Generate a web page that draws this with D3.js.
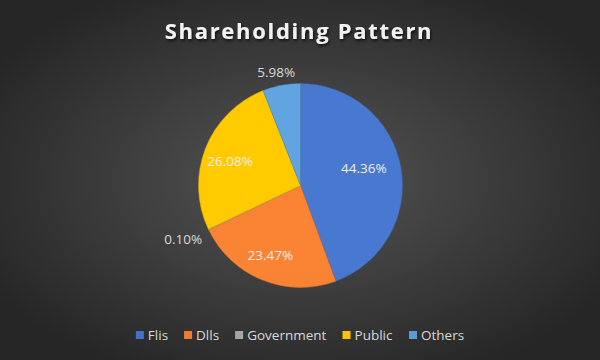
<!DOCTYPE html>
<html>
<head>
<meta charset="utf-8">
<script src="https://cdn.jsdelivr.net/npm/d3@7"></script>
<style>
  html, body { margin: 0; padding: 0; background: #333; }
  svg { display: block; font-family: "Open Sans", sans-serif; }
</style>
</head>
<body>
<div id="chart"></div>
<script>
const categories = ["Flis", "Dlls", "Government", "Public", "Others"];
const values = [44.36, 23.47, 0.10, 26.08, 5.98];
const colors = ["#4472C4", "#ED7D31", "#A5A5A5", "#FFC000", "#5B9BD5"];

const width = 600, height = 360;
const cx = 300.5, cy = 185.5, radius = 102;

const svg = d3.select("#chart").append("svg")
  .attr("width", width).attr("height", height);

const defs = svg.append("defs");
const bg = defs.append("radialGradient").attr("id", "bg")
  .attr("cx", "50%").attr("cy", "50%").attr("r", "60%");
bg.append("stop").attr("offset", "0%").attr("stop-color", "#555555");
bg.append("stop").attr("offset", "100%").attr("stop-color", "#262626");

const shadow = defs.append("filter").attr("id", "shadow")
  .attr("x", "-10%").attr("y", "-30%").attr("width", "120%").attr("height", "160%");
shadow.append("feDropShadow").attr("dx", 1).attr("dy", 2)
  .attr("stdDeviation", 1.5).attr("flood-color", "#000").attr("flood-opacity", 0.7);

colors.forEach((c, i) => {
  const g = defs.append("linearGradient").attr("id", "sl" + i)
    .attr("gradientUnits", "userSpaceOnUse")
    .attr("x1", 0).attr("y1", cy - radius).attr("x2", 0).attr("y2", cy + radius);
  g.append("stop").attr("offset", "0%").attr("stop-color", d3.color(c).brighter(0.15));
  g.append("stop").attr("offset", "100%").attr("stop-color", d3.color(c).darker(0.3));
});

svg.append("rect").attr("width", width).attr("height", height).attr("fill", "url(#bg)");

svg.append("text")
  .attr("x", width / 2 - 1).attr("y", 30)
  .attr("text-anchor", "middle").attr("dominant-baseline", "central")
  .attr("fill", "#f2f2f2").attr("font-size", 22).attr("font-weight", "bold")
  .attr("letter-spacing", 1.7)
  .attr("filter", "url(#shadow)")
  .text("Shareholding Pattern");

const pie = d3.pie().sort(null).value(d => d);
const arcs = pie(values);
const arc = d3.arc().innerRadius(0).outerRadius(radius);

const g = svg.append("g").attr("transform", `translate(${cx},${cy})`);
g.selectAll("path").data(arcs).join("path")
  .attr("d", arc)
  .attr("fill", (d, i) => `url(#sl${i})`)
  .attr("stroke", (d, i) => d3.color(colors[i]).darker(0.4))
  .attr("stroke-width", 0.5);

// labels: inside for big slices, outside (next to the rim) for small ones
const fmt = d => d.toFixed(2) + "%";
g.selectAll("text.lbl").data(arcs).join("text")
  .attr("class", "lbl")
  .attr("text-anchor", "middle").attr("dominant-baseline", "central")
  .attr("font-size", 13.5)
  .attr("fill", d => d.value < 10 ? "#d9d9d9" : "#eeeeee")
  .attr("transform", d => {
    const a = (d.startAngle + d.endAngle) / 2;
    const s = Math.sin(a), c = Math.cos(a);
    if (d.value < 10) {
      const r = radius + 8;
      return `translate(${r * s + 20 * s},${-r * c - 8 * c + 2})`;
    }
    const k = d.value > 40 ? 0.66 : 0.71;
    const dy = d.value > 40 ? -6 : 2;
    return `translate(${k * radius * s - 3},${-k * radius * c + dy})`;
  })
  .text(d => fmt(d.value));

// legend
const legend = svg.append("g").attr("transform", "translate(0,335)");
const items = legend.selectAll("g").data(categories).join("g");
items.append("rect").attr("width", 8).attr("height", 8).attr("y", -4)
  .attr("fill", (d, i) => colors[i]);
items.append("text").attr("x", 12).attr("dominant-baseline", "central")
  .attr("font-size", 13.5).attr("fill", "#d9d9d9").text(d => d);
const widths = [];
items.each(function () { widths.push(this.getBBox().width); });
const gap = 16;
const total = d3.sum(widths) + gap * (widths.length - 1);
let x0 = width / 2 - total / 2;
items.attr("transform", (d, i) => {
  const t = `translate(${x0},0)`;
  x0 += widths[i] + gap;
  return t;
});
</script>
</body>
</html>
